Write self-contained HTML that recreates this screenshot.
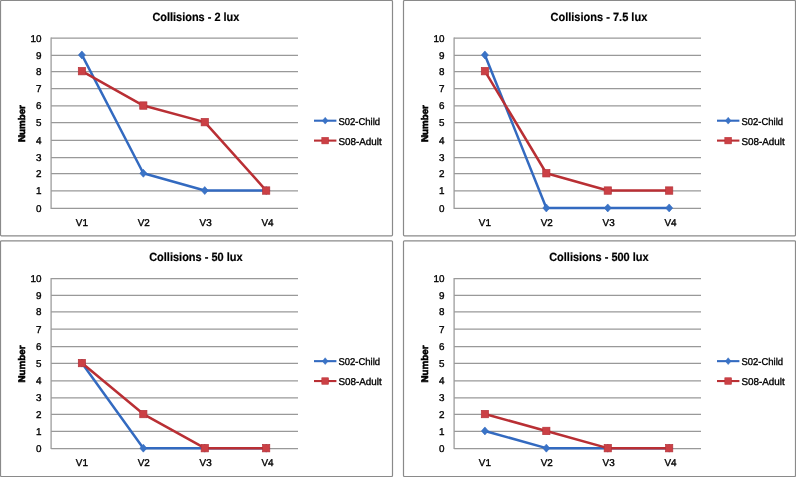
<!DOCTYPE html>
<html><head><meta charset="utf-8"><title>Collisions charts</title>
<style>
html,body{margin:0;padding:0;background:#fff;}
body{width:796px;height:477px;overflow:hidden;}
svg{display:block;text-rendering:geometricPrecision;}
.t{font-family:"Liberation Sans",Arial,sans-serif;font-size:9.9px;fill:#000;stroke:#000;stroke-width:0.35px;}
.tt{font-family:"Liberation Sans",Arial,sans-serif;font-size:11.9px;font-weight:bold;fill:#000;stroke:#000;stroke-width:0.2px;}
.at{font-family:"Liberation Sans",Arial,sans-serif;font-size:9.6px;font-weight:bold;fill:#000;stroke:#000;stroke-width:0.6px;}
</style></head>
<body>
<svg width="796" height="477" viewBox="0 0 796 477">
<g transform="translate(0,0)">
<rect x="0.5" y="0.5" width="392" height="235.3" rx="1" ry="1" fill="#fff" stroke="#8a8a8a" stroke-width="1.2"/>
<line x1="51.1" y1="38.0" x2="298" y2="38.0" stroke="#999999" stroke-width="1.25"/>
<line x1="51.1" y1="55.3" x2="298" y2="55.3" stroke="#999999" stroke-width="1.25"/>
<line x1="51.1" y1="71.5" x2="298" y2="71.5" stroke="#999999" stroke-width="1.25"/>
<line x1="51.1" y1="88.5" x2="298" y2="88.5" stroke="#999999" stroke-width="1.25"/>
<line x1="51.1" y1="105.9" x2="298" y2="105.9" stroke="#999999" stroke-width="1.25"/>
<line x1="51.1" y1="122.5" x2="298" y2="122.5" stroke="#999999" stroke-width="1.25"/>
<line x1="51.1" y1="140.4" x2="298" y2="140.4" stroke="#999999" stroke-width="1.25"/>
<line x1="51.1" y1="157.5" x2="298" y2="157.5" stroke="#999999" stroke-width="1.25"/>
<line x1="51.1" y1="173.6" x2="298" y2="173.6" stroke="#999999" stroke-width="1.25"/>
<line x1="51.1" y1="190.9" x2="298" y2="190.9" stroke="#999999" stroke-width="1.25"/>
<line x1="51.1" y1="208.3" x2="298" y2="208.3" stroke="#999999" stroke-width="1.25"/>
<line x1="51.1" y1="37.4" x2="51.1" y2="208.9" stroke="#999999" stroke-width="1.25"/>
<text x="41.6" y="211.85" text-anchor="end" class="t">0</text>
<text x="41.6" y="194.45" text-anchor="end" class="t">1</text>
<text x="41.6" y="177.15" text-anchor="end" class="t">2</text>
<text x="41.6" y="161.05" text-anchor="end" class="t">3</text>
<text x="41.6" y="143.95" text-anchor="end" class="t">4</text>
<text x="41.6" y="126.05" text-anchor="end" class="t">5</text>
<text x="41.6" y="109.45" text-anchor="end" class="t">6</text>
<text x="41.6" y="92.05" text-anchor="end" class="t">7</text>
<text x="41.6" y="75.05" text-anchor="end" class="t">8</text>
<text x="41.6" y="58.85" text-anchor="end" class="t">9</text>
<text x="41.6" y="41.55" text-anchor="end" class="t">10</text>
<text x="81.90" y="226.00" text-anchor="middle" class="t">V1</text>
<text x="143.75" y="226.00" text-anchor="middle" class="t">V2</text>
<text x="205.60" y="226.00" text-anchor="middle" class="t">V3</text>
<text x="267.45" y="226.00" text-anchor="middle" class="t">V4</text>
<text x="195.9" y="20.60" text-anchor="middle" class="tt" textLength="87" lengthAdjust="spacingAndGlyphs">Collisions - 2 lux</text>
<text transform="translate(25.0,123.60) rotate(-90)" text-anchor="middle" class="at" textLength="37" lengthAdjust="spacingAndGlyphs">Number</text>
<polyline points="81.90,54.949999999999996 143.33,173.25 204.76,190.55 266.19,190.55" fill="none" stroke="#336AC0" stroke-width="2.5" stroke-linejoin="round"/>
<path d="M81.90 50.95L85.40 54.95L81.90 58.95L78.40 54.95Z" fill="#3A73C6" stroke="#336AC0" stroke-width="0.6"/>
<path d="M143.33 169.25L146.83 173.25L143.33 177.25L139.83 173.25Z" fill="#3A73C6" stroke="#336AC0" stroke-width="0.6"/>
<path d="M204.76 186.55L208.26 190.55L204.76 194.55L201.26 190.55Z" fill="#3A73C6" stroke="#336AC0" stroke-width="0.6"/>
<path d="M266.19 186.55L269.69 190.55L266.19 194.55L262.69 190.55Z" fill="#3A73C6" stroke="#336AC0" stroke-width="0.6"/>
<polyline points="81.90,71.15 143.33,105.55000000000001 204.76,122.15 266.19,190.55" fill="none" stroke="#B92F34" stroke-width="2.5" stroke-linejoin="round"/>
<rect x="78.30" y="67.45" width="7.2" height="7.4" fill="#CB4045" stroke="#B5333A" stroke-width="0.7"/>
<rect x="139.73" y="101.85" width="7.2" height="7.4" fill="#CB4045" stroke="#B5333A" stroke-width="0.7"/>
<rect x="201.16" y="118.45" width="7.2" height="7.4" fill="#CB4045" stroke="#B5333A" stroke-width="0.7"/>
<rect x="262.59" y="186.85" width="7.2" height="7.4" fill="#CB4045" stroke="#B5333A" stroke-width="0.7"/>
<line x1="314" y1="120.7" x2="336.4" y2="120.7" stroke="#336AC0" stroke-width="2.1"/>
<path d="M325.2 117.30L328.00 120.7L325.2 124.10L322.40 120.7Z" fill="#3A73C6" stroke="#336AC0" stroke-width="0.5"/>
<text x="338.4" y="124.60" class="t" textLength="41.7" lengthAdjust="spacingAndGlyphs">S02-Child</text>
<line x1="314" y1="140.6" x2="336.4" y2="140.6" stroke="#B92F34" stroke-width="2.1"/>
<rect x="321.80" y="137.30" width="6.8" height="6.6" fill="#CB4045" stroke="#B92F34" stroke-width="0.5"/>
<text x="338.4" y="144.50" class="t" textLength="43.3" lengthAdjust="spacingAndGlyphs">S08-Adult</text>
</g>
<g transform="translate(403,0)">
<rect x="0.5" y="0.5" width="392" height="235.3" rx="1" ry="1" fill="#fff" stroke="#8a8a8a" stroke-width="1.2"/>
<line x1="51.1" y1="38.0" x2="298" y2="38.0" stroke="#999999" stroke-width="1.25"/>
<line x1="51.1" y1="55.3" x2="298" y2="55.3" stroke="#999999" stroke-width="1.25"/>
<line x1="51.1" y1="71.5" x2="298" y2="71.5" stroke="#999999" stroke-width="1.25"/>
<line x1="51.1" y1="88.5" x2="298" y2="88.5" stroke="#999999" stroke-width="1.25"/>
<line x1="51.1" y1="105.9" x2="298" y2="105.9" stroke="#999999" stroke-width="1.25"/>
<line x1="51.1" y1="122.5" x2="298" y2="122.5" stroke="#999999" stroke-width="1.25"/>
<line x1="51.1" y1="140.4" x2="298" y2="140.4" stroke="#999999" stroke-width="1.25"/>
<line x1="51.1" y1="157.5" x2="298" y2="157.5" stroke="#999999" stroke-width="1.25"/>
<line x1="51.1" y1="173.6" x2="298" y2="173.6" stroke="#999999" stroke-width="1.25"/>
<line x1="51.1" y1="190.9" x2="298" y2="190.9" stroke="#999999" stroke-width="1.25"/>
<line x1="51.1" y1="208.3" x2="298" y2="208.3" stroke="#999999" stroke-width="1.25"/>
<line x1="51.1" y1="37.4" x2="51.1" y2="208.9" stroke="#999999" stroke-width="1.25"/>
<text x="41.6" y="211.85" text-anchor="end" class="t">0</text>
<text x="41.6" y="194.45" text-anchor="end" class="t">1</text>
<text x="41.6" y="177.15" text-anchor="end" class="t">2</text>
<text x="41.6" y="161.05" text-anchor="end" class="t">3</text>
<text x="41.6" y="143.95" text-anchor="end" class="t">4</text>
<text x="41.6" y="126.05" text-anchor="end" class="t">5</text>
<text x="41.6" y="109.45" text-anchor="end" class="t">6</text>
<text x="41.6" y="92.05" text-anchor="end" class="t">7</text>
<text x="41.6" y="75.05" text-anchor="end" class="t">8</text>
<text x="41.6" y="58.85" text-anchor="end" class="t">9</text>
<text x="41.6" y="41.55" text-anchor="end" class="t">10</text>
<text x="81.90" y="226.00" text-anchor="middle" class="t">V1</text>
<text x="143.75" y="226.00" text-anchor="middle" class="t">V2</text>
<text x="205.60" y="226.00" text-anchor="middle" class="t">V3</text>
<text x="267.45" y="226.00" text-anchor="middle" class="t">V4</text>
<text x="195.9" y="20.60" text-anchor="middle" class="tt" textLength="96.8" lengthAdjust="spacingAndGlyphs">Collisions - 7.5 lux</text>
<text transform="translate(25.0,123.60) rotate(-90)" text-anchor="middle" class="at" textLength="37" lengthAdjust="spacingAndGlyphs">Number</text>
<polyline points="81.90,54.949999999999996 143.33,207.95000000000002 204.76,207.95000000000002 266.19,207.95000000000002" fill="none" stroke="#336AC0" stroke-width="2.5" stroke-linejoin="round"/>
<path d="M81.90 50.95L85.40 54.95L81.90 58.95L78.40 54.95Z" fill="#3A73C6" stroke="#336AC0" stroke-width="0.6"/>
<path d="M143.33 203.95L146.83 207.95L143.33 211.95L139.83 207.95Z" fill="#3A73C6" stroke="#336AC0" stroke-width="0.6"/>
<path d="M204.76 203.95L208.26 207.95L204.76 211.95L201.26 207.95Z" fill="#3A73C6" stroke="#336AC0" stroke-width="0.6"/>
<path d="M266.19 203.95L269.69 207.95L266.19 211.95L262.69 207.95Z" fill="#3A73C6" stroke="#336AC0" stroke-width="0.6"/>
<polyline points="81.90,71.15 143.33,173.25 204.76,190.55 266.19,190.55" fill="none" stroke="#B92F34" stroke-width="2.5" stroke-linejoin="round"/>
<rect x="78.30" y="67.45" width="7.2" height="7.4" fill="#CB4045" stroke="#B5333A" stroke-width="0.7"/>
<rect x="139.73" y="169.55" width="7.2" height="7.4" fill="#CB4045" stroke="#B5333A" stroke-width="0.7"/>
<rect x="201.16" y="186.85" width="7.2" height="7.4" fill="#CB4045" stroke="#B5333A" stroke-width="0.7"/>
<rect x="262.59" y="186.85" width="7.2" height="7.4" fill="#CB4045" stroke="#B5333A" stroke-width="0.7"/>
<line x1="314" y1="120.7" x2="336.4" y2="120.7" stroke="#336AC0" stroke-width="2.1"/>
<path d="M325.2 117.30L328.00 120.7L325.2 124.10L322.40 120.7Z" fill="#3A73C6" stroke="#336AC0" stroke-width="0.5"/>
<text x="338.4" y="124.60" class="t" textLength="41.7" lengthAdjust="spacingAndGlyphs">S02-Child</text>
<line x1="314" y1="140.6" x2="336.4" y2="140.6" stroke="#B92F34" stroke-width="2.1"/>
<rect x="321.80" y="137.30" width="6.8" height="6.6" fill="#CB4045" stroke="#B92F34" stroke-width="0.5"/>
<text x="338.4" y="144.50" class="t" textLength="43.3" lengthAdjust="spacingAndGlyphs">S08-Adult</text>
</g>
<g transform="translate(0,240)">
<rect x="0.5" y="0.8" width="392" height="235.7" rx="1" ry="1" fill="#fff" stroke="#8a8a8a" stroke-width="1.2"/>
<line x1="51.1" y1="38.5" x2="298" y2="38.5" stroke="#999999" stroke-width="1.25"/>
<line x1="51.1" y1="55.3" x2="298" y2="55.3" stroke="#999999" stroke-width="1.25"/>
<line x1="51.1" y1="71.8" x2="298" y2="71.8" stroke="#999999" stroke-width="1.25"/>
<line x1="51.1" y1="89.1" x2="298" y2="89.1" stroke="#999999" stroke-width="1.25"/>
<line x1="51.1" y1="106.5" x2="298" y2="106.5" stroke="#999999" stroke-width="1.25"/>
<line x1="51.1" y1="123.4" x2="298" y2="123.4" stroke="#999999" stroke-width="1.25"/>
<line x1="51.1" y1="140.9" x2="298" y2="140.9" stroke="#999999" stroke-width="1.25"/>
<line x1="51.1" y1="157.8" x2="298" y2="157.8" stroke="#999999" stroke-width="1.25"/>
<line x1="51.1" y1="174.4" x2="298" y2="174.4" stroke="#999999" stroke-width="1.25"/>
<line x1="51.1" y1="191.3" x2="298" y2="191.3" stroke="#999999" stroke-width="1.25"/>
<line x1="51.1" y1="208.5" x2="298" y2="208.5" stroke="#999999" stroke-width="1.25"/>
<line x1="51.1" y1="37.9" x2="51.1" y2="209.1" stroke="#999999" stroke-width="1.25"/>
<text x="41.6" y="212.05" text-anchor="end" class="t">0</text>
<text x="41.6" y="194.85" text-anchor="end" class="t">1</text>
<text x="41.6" y="177.95" text-anchor="end" class="t">2</text>
<text x="41.6" y="161.35" text-anchor="end" class="t">3</text>
<text x="41.6" y="144.45" text-anchor="end" class="t">4</text>
<text x="41.6" y="126.95" text-anchor="end" class="t">5</text>
<text x="41.6" y="110.05" text-anchor="end" class="t">6</text>
<text x="41.6" y="92.65" text-anchor="end" class="t">7</text>
<text x="41.6" y="75.35" text-anchor="end" class="t">8</text>
<text x="41.6" y="58.85" text-anchor="end" class="t">9</text>
<text x="41.6" y="42.05" text-anchor="end" class="t">10</text>
<text x="81.90" y="226.45" text-anchor="middle" class="t">V1</text>
<text x="143.75" y="226.45" text-anchor="middle" class="t">V2</text>
<text x="205.60" y="226.45" text-anchor="middle" class="t">V3</text>
<text x="267.45" y="226.45" text-anchor="middle" class="t">V4</text>
<text x="195.9" y="21.05" text-anchor="middle" class="tt" textLength="93.5" lengthAdjust="spacingAndGlyphs">Collisions - 50 lux</text>
<text transform="translate(25.0,124.05) rotate(-90)" text-anchor="middle" class="at" textLength="37" lengthAdjust="spacingAndGlyphs">Number</text>
<polyline points="81.90,123.05000000000001 143.33,208.15 204.76,208.15 266.19,208.15" fill="none" stroke="#336AC0" stroke-width="2.5" stroke-linejoin="round"/>
<path d="M81.90 119.05L85.40 123.05L81.90 127.05L78.40 123.05Z" fill="#3A73C6" stroke="#336AC0" stroke-width="0.6"/>
<path d="M143.33 204.15L146.83 208.15L143.33 212.15L139.83 208.15Z" fill="#3A73C6" stroke="#336AC0" stroke-width="0.6"/>
<path d="M204.76 204.15L208.26 208.15L204.76 212.15L201.26 208.15Z" fill="#3A73C6" stroke="#336AC0" stroke-width="0.6"/>
<path d="M266.19 204.15L269.69 208.15L266.19 212.15L262.69 208.15Z" fill="#3A73C6" stroke="#336AC0" stroke-width="0.6"/>
<polyline points="81.90,123.05000000000001 143.33,174.05 204.76,208.15 266.19,208.15" fill="none" stroke="#B92F34" stroke-width="2.5" stroke-linejoin="round"/>
<rect x="78.30" y="119.35" width="7.2" height="7.4" fill="#CB4045" stroke="#B5333A" stroke-width="0.7"/>
<rect x="139.73" y="170.35" width="7.2" height="7.4" fill="#CB4045" stroke="#B5333A" stroke-width="0.7"/>
<rect x="201.16" y="204.45" width="7.2" height="7.4" fill="#CB4045" stroke="#B5333A" stroke-width="0.7"/>
<rect x="262.59" y="204.45" width="7.2" height="7.4" fill="#CB4045" stroke="#B5333A" stroke-width="0.7"/>
<line x1="314" y1="121.15" x2="336.4" y2="121.15" stroke="#336AC0" stroke-width="2.1"/>
<path d="M325.2 117.75L328.00 121.15L325.2 124.55L322.40 121.15Z" fill="#3A73C6" stroke="#336AC0" stroke-width="0.5"/>
<text x="338.4" y="125.05" class="t" textLength="41.7" lengthAdjust="spacingAndGlyphs">S02-Child</text>
<line x1="314" y1="141.04999999999998" x2="336.4" y2="141.04999999999998" stroke="#B92F34" stroke-width="2.1"/>
<rect x="321.80" y="137.75" width="6.8" height="6.6" fill="#CB4045" stroke="#B92F34" stroke-width="0.5"/>
<text x="338.4" y="144.95" class="t" textLength="43.3" lengthAdjust="spacingAndGlyphs">S08-Adult</text>
</g>
<g transform="translate(403,240)">
<rect x="0.5" y="0.8" width="392" height="235.7" rx="1" ry="1" fill="#fff" stroke="#8a8a8a" stroke-width="1.2"/>
<line x1="51.1" y1="38.5" x2="298" y2="38.5" stroke="#999999" stroke-width="1.25"/>
<line x1="51.1" y1="55.3" x2="298" y2="55.3" stroke="#999999" stroke-width="1.25"/>
<line x1="51.1" y1="71.8" x2="298" y2="71.8" stroke="#999999" stroke-width="1.25"/>
<line x1="51.1" y1="89.1" x2="298" y2="89.1" stroke="#999999" stroke-width="1.25"/>
<line x1="51.1" y1="106.5" x2="298" y2="106.5" stroke="#999999" stroke-width="1.25"/>
<line x1="51.1" y1="123.4" x2="298" y2="123.4" stroke="#999999" stroke-width="1.25"/>
<line x1="51.1" y1="140.9" x2="298" y2="140.9" stroke="#999999" stroke-width="1.25"/>
<line x1="51.1" y1="157.8" x2="298" y2="157.8" stroke="#999999" stroke-width="1.25"/>
<line x1="51.1" y1="174.4" x2="298" y2="174.4" stroke="#999999" stroke-width="1.25"/>
<line x1="51.1" y1="191.3" x2="298" y2="191.3" stroke="#999999" stroke-width="1.25"/>
<line x1="51.1" y1="208.5" x2="298" y2="208.5" stroke="#999999" stroke-width="1.25"/>
<line x1="51.1" y1="37.9" x2="51.1" y2="209.1" stroke="#999999" stroke-width="1.25"/>
<text x="41.6" y="212.05" text-anchor="end" class="t">0</text>
<text x="41.6" y="194.85" text-anchor="end" class="t">1</text>
<text x="41.6" y="177.95" text-anchor="end" class="t">2</text>
<text x="41.6" y="161.35" text-anchor="end" class="t">3</text>
<text x="41.6" y="144.45" text-anchor="end" class="t">4</text>
<text x="41.6" y="126.95" text-anchor="end" class="t">5</text>
<text x="41.6" y="110.05" text-anchor="end" class="t">6</text>
<text x="41.6" y="92.65" text-anchor="end" class="t">7</text>
<text x="41.6" y="75.35" text-anchor="end" class="t">8</text>
<text x="41.6" y="58.85" text-anchor="end" class="t">9</text>
<text x="41.6" y="42.05" text-anchor="end" class="t">10</text>
<text x="81.90" y="226.45" text-anchor="middle" class="t">V1</text>
<text x="143.75" y="226.45" text-anchor="middle" class="t">V2</text>
<text x="205.60" y="226.45" text-anchor="middle" class="t">V3</text>
<text x="267.45" y="226.45" text-anchor="middle" class="t">V4</text>
<text x="195.9" y="21.05" text-anchor="middle" class="tt" textLength="99.5" lengthAdjust="spacingAndGlyphs">Collisions - 500 lux</text>
<text transform="translate(25.0,124.05) rotate(-90)" text-anchor="middle" class="at" textLength="37" lengthAdjust="spacingAndGlyphs">Number</text>
<polyline points="81.90,190.95000000000002 143.33,208.15 204.76,208.15 266.19,208.15" fill="none" stroke="#336AC0" stroke-width="2.5" stroke-linejoin="round"/>
<path d="M81.90 186.95L85.40 190.95L81.90 194.95L78.40 190.95Z" fill="#3A73C6" stroke="#336AC0" stroke-width="0.6"/>
<path d="M143.33 204.15L146.83 208.15L143.33 212.15L139.83 208.15Z" fill="#3A73C6" stroke="#336AC0" stroke-width="0.6"/>
<path d="M204.76 204.15L208.26 208.15L204.76 212.15L201.26 208.15Z" fill="#3A73C6" stroke="#336AC0" stroke-width="0.6"/>
<path d="M266.19 204.15L269.69 208.15L266.19 212.15L262.69 208.15Z" fill="#3A73C6" stroke="#336AC0" stroke-width="0.6"/>
<polyline points="81.90,174.05 143.33,190.95000000000002 204.76,208.15 266.19,208.15" fill="none" stroke="#B92F34" stroke-width="2.5" stroke-linejoin="round"/>
<rect x="78.30" y="170.35" width="7.2" height="7.4" fill="#CB4045" stroke="#B5333A" stroke-width="0.7"/>
<rect x="139.73" y="187.25" width="7.2" height="7.4" fill="#CB4045" stroke="#B5333A" stroke-width="0.7"/>
<rect x="201.16" y="204.45" width="7.2" height="7.4" fill="#CB4045" stroke="#B5333A" stroke-width="0.7"/>
<rect x="262.59" y="204.45" width="7.2" height="7.4" fill="#CB4045" stroke="#B5333A" stroke-width="0.7"/>
<line x1="314" y1="121.15" x2="336.4" y2="121.15" stroke="#336AC0" stroke-width="2.1"/>
<path d="M325.2 117.75L328.00 121.15L325.2 124.55L322.40 121.15Z" fill="#3A73C6" stroke="#336AC0" stroke-width="0.5"/>
<text x="338.4" y="125.05" class="t" textLength="41.7" lengthAdjust="spacingAndGlyphs">S02-Child</text>
<line x1="314" y1="141.04999999999998" x2="336.4" y2="141.04999999999998" stroke="#B92F34" stroke-width="2.1"/>
<rect x="321.80" y="137.75" width="6.8" height="6.6" fill="#CB4045" stroke="#B92F34" stroke-width="0.5"/>
<text x="338.4" y="144.95" class="t" textLength="43.3" lengthAdjust="spacingAndGlyphs">S08-Adult</text>
</g>
</svg>
</body></html>
